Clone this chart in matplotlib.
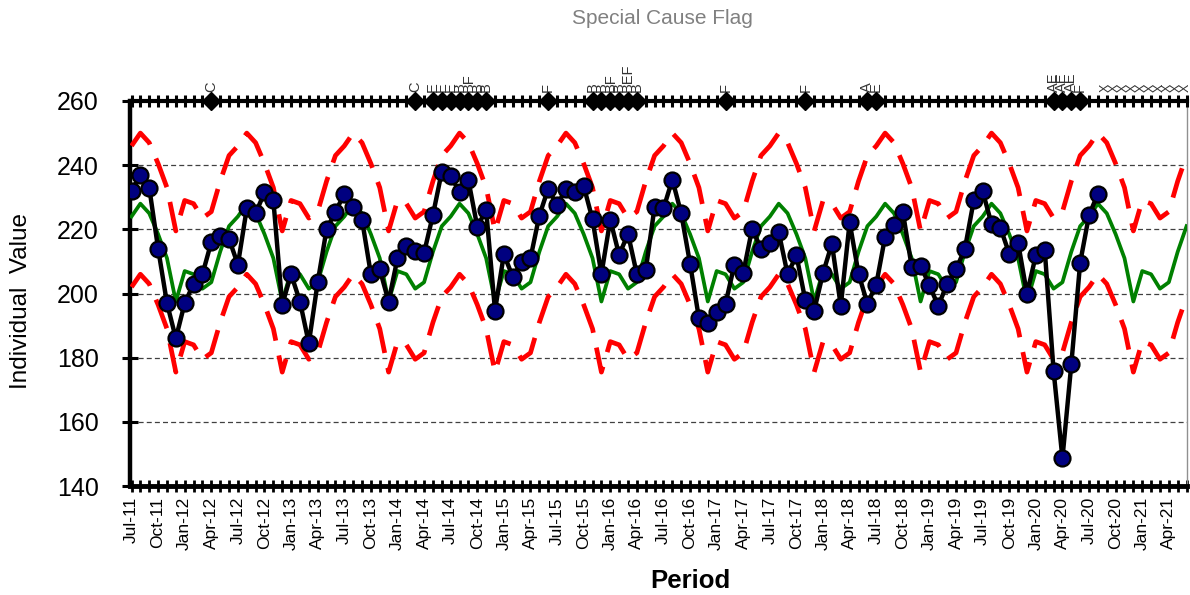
import matplotlib
matplotlib.use('Agg')
import matplotlib.pyplot as plt
import numpy as np
import pandas as pd

plt.rcParams['font.family'] = ['Liberation Sans', 'DejaVu Sans']

# monthly periods Jul-11 .. Jun-21
periods = pd.date_range('2011-07-01', periods=120, freq='MS').strftime('%b-%y').tolist()

# individual values Jul-11 .. Aug-20
values = [
    232, 237, 233, 214, 197, 186,
    197, 203, 206, 216, 218, 217, 209, 226.5, 225, 231.5, 229, 196.5,
    206, 197.5, 184.5, 203.5, 220, 225.5, 231, 227, 223, 206, 207.5, 197.5,
    211, 214.7, 213.2, 212.7, 224.5, 238, 236.5, 231.7, 235.3, 220.8, 226, 194.7,
    212.2, 205.2, 209.8, 211, 224.3, 232.7, 227.5, 232.6, 231.5, 233.5, 223.1, 206,
    223, 212, 218.6, 206, 207.3, 227, 226.5, 235.5, 225, 209.3, 192.3, 190.7,
    194.2, 196.8, 209, 206.4, 220.2, 214, 215.6, 219.1, 206, 211.9, 197.9, 194.7,
    206.4, 215.5, 196.1, 222.2, 206.2, 196.8, 202.8, 217.7, 221.5, 225.4, 208.3, 208.7,
    202.5, 196.1, 203.1, 207.5, 214, 229, 231.9, 221.7, 220.5, 212.4, 215.8, 199.9,
    211.9, 213.7, 176, 148.6, 177.9, 209.6, 224.4, 231.1,
]

# centre line, one row per Jul..Jun year
center = [
    224, 228, 225, 218.5, 211, 197.5, 207, 206, 201.5, 203.5, 213, 221,
    224, 228, 225, 218.5, 211, 197.5, 207, 206, 201.5, 203.5, 213, 221,
    224, 228, 225, 218.5, 211, 197.5, 207, 206, 201.5, 203.5, 213, 221,
    224, 228, 225, 218.5, 211, 197.5, 207, 206, 201.5, 203.5, 213, 221,
    224, 228, 225, 218.5, 211, 197.5, 207, 206, 201.5, 203.5, 213, 221,
    224, 228, 225, 218.5, 211, 197.5, 207, 206, 201.5, 203.5, 213, 221,
    224, 228, 225, 218.5, 211, 197.5, 207, 206, 201.5, 203.5, 213, 221,
    224, 228, 225, 218.5, 211, 197.5, 207, 206, 201.5, 203.5, 213, 221,
    224, 228, 225, 218.5, 211, 197.5, 207, 206, 201.5, 203.5, 213, 221,
    224, 228, 225, 218.5, 211, 197.5, 207, 206, 201.5, 203.5, 213, 221,
]

ucl = [
    246, 250, 247, 240.5, 233, 219.5, 229, 228, 223.5, 225.5, 235, 243,
    246, 250, 247, 240.5, 233, 219.5, 229, 228, 223.5, 225.5, 235, 243,
    246, 250, 247, 240.5, 233, 219.5, 229, 228, 223.5, 225.5, 235, 243,
    246, 250, 247, 240.5, 233, 219.5, 229, 228, 223.5, 225.5, 235, 243,
    246, 250, 247, 240.5, 233, 219.5, 229, 228, 223.5, 225.5, 235, 243,
    246, 250, 247, 240.5, 233, 219.5, 229, 228, 223.5, 225.5, 235, 243,
    246, 250, 247, 240.5, 233, 219.5, 229, 228, 223.5, 225.5, 235, 243,
    246, 250, 247, 240.5, 233, 219.5, 229, 228, 223.5, 225.5, 235, 243,
    246, 250, 247, 240.5, 233, 219.5, 229, 228, 223.5, 225.5, 235, 243,
    246, 250, 247, 240.5, 233, 219.5, 229, 228, 223.5, 225.5, 235, 243,
]

lcl = [
    202, 206, 203, 196.5, 189, 175.5, 185, 184, 179.5, 181.5, 191, 199,
    202, 206, 203, 196.5, 189, 175.5, 185, 184, 179.5, 181.5, 191, 199,
    202, 206, 203, 196.5, 189, 175.5, 185, 184, 179.5, 181.5, 191, 199,
    202, 206, 203, 196.5, 189, 175.5, 185, 184, 179.5, 181.5, 191, 199,
    202, 206, 203, 196.5, 189, 175.5, 185, 184, 179.5, 181.5, 191, 199,
    202, 206, 203, 196.5, 189, 175.5, 185, 184, 179.5, 181.5, 191, 199,
    202, 206, 203, 196.5, 189, 175.5, 185, 184, 179.5, 181.5, 191, 199,
    202, 206, 203, 196.5, 189, 175.5, 185, 184, 179.5, 181.5, 191, 199,
    202, 206, 203, 196.5, 189, 175.5, 185, 184, 179.5, 181.5, 191, 199,
    202, 206, 203, 196.5, 189, 175.5, 185, 184, 179.5, 181.5, 191, 199,
]

# special cause flags
flag_periods = ['Apr-12', 'Mar-14', 'May-14', 'Jun-14', 'Jul-14', 'Aug-14', 'Sep-14',
                'Oct-14', 'Nov-14', 'Jun-15', 'Nov-15', 'Dec-15', 'Jan-16', 'Feb-16',
                'Mar-16', 'Apr-16', 'Feb-17', 'Nov-17', 'Jun-18', 'Jul-18',
                'Mar-20', 'Apr-20', 'May-20', 'Jun-20']
flag_codes = ['C', 'C', 'E', 'E', 'E', 'B', 'BF',
              'B', 'B', 'F', 'B', 'B', 'BF', 'B',
              'BEF', 'B', 'F', 'F', 'A', 'E',
              'AE', 'AE', 'AE', 'F']
nodata_code = 'X'
flag_level = 260

fig = plt.figure(figsize=(11.9, 5.95), dpi=100)
ax = fig.add_axes([130 / 1190, 1 - 486 / 595, 1057 / 1190, 385 / 595])

x = np.arange(len(periods))
xv = x[:len(values)]

dash = (0, (6.5, 3.2))
ax.plot(x, ucl, color='#ff0000', lw=3.4, ls=dash, zorder=3)
ax.plot(x, lcl, color='#ff0000', lw=3.4, ls=dash, zorder=3)
ax.plot(x, center, color='#008000', lw=2.7, zorder=3)
ax.plot(xv, values, color='black', lw=3.2, marker='o', ms=11.5,
        mfc='#000080', mec='black', mew=1.6, zorder=5)

# flag row along the top
ax.plot(x, [flag_level] * len(x), color='black', lw=3, marker='|', ms=9, mew=2.2,
        clip_on=False, zorder=6)
fx = [periods.index(p) for p in flag_periods]
ax.plot(fx, [flag_level] * len(fx), ls='none', marker='D', ms=9, color='black',
        clip_on=False, zorder=7)
for i, code in zip(fx, flag_codes):
    ax.annotate(code, (i, flag_level), xytext=(0, 6.5), textcoords='offset points',
                rotation=90, ha='center', va='bottom', fontsize=10.5, color='#333333',
                annotation_clip=False)
for i in x[len(values):]:
    ax.annotate(nodata_code, (i, flag_level), xytext=(-0.5, 6.5), textcoords='offset points',
                rotation=90, ha='center', va='bottom', fontsize=9, color='#333333',
                annotation_clip=False)

ax.set_xlim(-0.17, 119.05)
ax.set_ylim(140, 260)
ax.set_xticks(x[::3])
ax.set_xticklabels(periods[::3], rotation=90, fontsize=12.5)
ax.set_xticks(x, minor=True)
ax.tick_params(axis='x', which='both', direction='inout', length=9, width=2, pad=3.5)
ax.set_yticks(range(140, 261, 20))
ax.tick_params(axis='y', direction='inout', length=11, width=2.2, labelsize=18, pad=17)

ax.grid(axis='y', color='#404040', lw=0.9, ls=(0, (4, 2.5)))
ax.set_axisbelow(True)

ax.spines['top'].set_visible(False)
ax.spines['left'].set_linewidth(3.2)
ax.spines['bottom'].set_linewidth(3.5)
ax.spines['right'].set_linewidth(1)
ax.spines['right'].set_color('#909090')

fig.text(21 / 1190, 1 - 301 / 595, 'Individual  Value', rotation=90, fontsize=17.5,
         ha='center', va='center')
fig.text(690 / 1190, 1 - 581 / 595, 'Period', fontsize=18.5, fontweight='bold',
         ha='center', va='center')
fig.text(662 / 1190, 1 - 19 / 595, 'Special Cause Flag', fontsize=15, color='#808080',
         ha='center', va='center')

fig.savefig('out.png', dpi=100)
